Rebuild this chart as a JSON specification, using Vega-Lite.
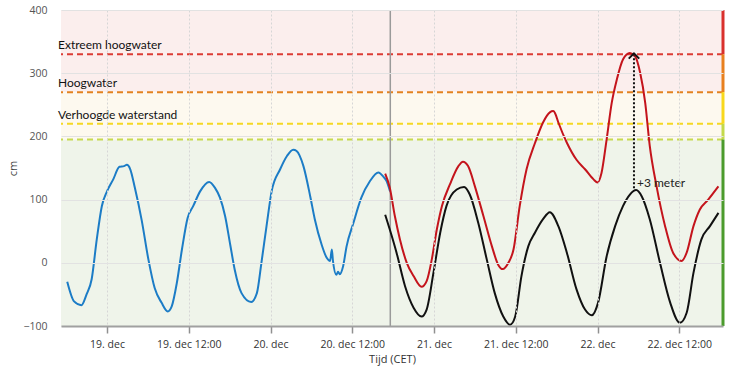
{
  "$schema": "https://vega.github.io/schema/vega-lite/v6.json",
  "width": 662,
  "height": 316,
  "autosize": {"type": "none"},
  "padding": {"left": 61, "top": 10, "right": 9, "bottom": 44},
  "background": "#ffffff",
  "config": {
    "view": {"stroke": null},
    "font": "Open Sans"
  },
  "resolve": {"scale": {"stroke": "independent", "color": "independent"}},
  "datasets": {
    "bands": [
      {"band": "hoog", "lo": 270, "hi": 400},
      {"band": "verhoogd", "lo": 195, "hi": 270},
      {"band": "normaal", "lo": -100, "hi": 195}
    ],
    "zones": [
      {"zone": "extreem", "lo": 330, "hi": 400},
      {"zone": "hoog", "lo": 270, "hi": 330},
      {"zone": "verhoogd", "lo": 220, "hi": 270},
      {"zone": "licht", "lo": 195, "hi": 220},
      {"zone": "normaal", "lo": -100, "hi": 195}
    ],
    "thresholds": [
      {"zone": "extreem", "level": 330, "label": "Extreem hoogwater"},
      {"zone": "hoog", "level": 270, "label": "Hoogwater"},
      {"zone": "verhoogd", "level": 220, "label": "Verhoogde waterstand"},
      {"zone": "licht", "level": 195, "label": ""}
    ],
    "now": [
      {"t": "2022-12-20T17:35:00Z"}
    ],
    "arrow": [
      {"t": "2022-12-22T05:21:00Z", "from": 118, "to": 328, "label": "+3 meter"}
    ],
    "series": [
      {"s": "gemeten", "t": "2022-12-18T18:10:00Z", "v": -30},
      {"s": "gemeten", "t": "2022-12-18T19:10:00Z", "v": -61},
      {"s": "gemeten", "t": "2022-12-18T20:15:00Z", "v": -67},
      {"s": "gemeten", "t": "2022-12-18T21:00:00Z", "v": -50},
      {"s": "gemeten", "t": "2022-12-18T21:45:00Z", "v": -26},
      {"s": "gemeten", "t": "2022-12-18T22:30:00Z", "v": 37},
      {"s": "gemeten", "t": "2022-12-18T23:15:00Z", "v": 90},
      {"s": "gemeten", "t": "2022-12-19T00:00:00Z", "v": 113},
      {"s": "gemeten", "t": "2022-12-19T00:55:00Z", "v": 132},
      {"s": "gemeten", "t": "2022-12-19T01:50:00Z", "v": 152},
      {"s": "gemeten", "t": "2022-12-19T02:30:00Z", "v": 153},
      {"s": "gemeten", "t": "2022-12-19T02:55:00Z", "v": 155},
      {"s": "gemeten", "t": "2022-12-19T03:25:00Z", "v": 148},
      {"s": "gemeten", "t": "2022-12-19T04:05:00Z", "v": 119},
      {"s": "gemeten", "t": "2022-12-19T05:05:00Z", "v": 68},
      {"s": "gemeten", "t": "2022-12-19T06:05:00Z", "v": 5},
      {"s": "gemeten", "t": "2022-12-19T07:00:00Z", "v": -40},
      {"s": "gemeten", "t": "2022-12-19T08:00:00Z", "v": -63},
      {"s": "gemeten", "t": "2022-12-19T08:55:00Z", "v": -77},
      {"s": "gemeten", "t": "2022-12-19T09:30:00Z", "v": -69},
      {"s": "gemeten", "t": "2022-12-19T10:15:00Z", "v": -32},
      {"s": "gemeten", "t": "2022-12-19T11:00:00Z", "v": 21},
      {"s": "gemeten", "t": "2022-12-19T11:50:00Z", "v": 71},
      {"s": "gemeten", "t": "2022-12-19T12:40:00Z", "v": 90},
      {"s": "gemeten", "t": "2022-12-19T13:40:00Z", "v": 113},
      {"s": "gemeten", "t": "2022-12-19T15:00:00Z", "v": 128},
      {"s": "gemeten", "t": "2022-12-19T15:50:00Z", "v": 119},
      {"s": "gemeten", "t": "2022-12-19T16:35:00Z", "v": 103},
      {"s": "gemeten", "t": "2022-12-19T17:20:00Z", "v": 74},
      {"s": "gemeten", "t": "2022-12-19T18:05:00Z", "v": 29},
      {"s": "gemeten", "t": "2022-12-19T18:45:00Z", "v": -11},
      {"s": "gemeten", "t": "2022-12-19T19:45:00Z", "v": -48},
      {"s": "gemeten", "t": "2022-12-19T21:10:00Z", "v": -62},
      {"s": "gemeten", "t": "2022-12-19T22:00:00Z", "v": -48},
      {"s": "gemeten", "t": "2022-12-19T22:40:00Z", "v": 0},
      {"s": "gemeten", "t": "2022-12-19T23:25:00Z", "v": 58},
      {"s": "gemeten", "t": "2022-12-20T00:10:00Z", "v": 113},
      {"s": "gemeten", "t": "2022-12-20T01:25:00Z", "v": 148},
      {"s": "gemeten", "t": "2022-12-20T02:25:00Z", "v": 169},
      {"s": "gemeten", "t": "2022-12-20T03:20:00Z", "v": 179},
      {"s": "gemeten", "t": "2022-12-20T03:50:00Z", "v": 177},
      {"s": "gemeten", "t": "2022-12-20T04:50:00Z", "v": 153},
      {"s": "gemeten", "t": "2022-12-20T05:50:00Z", "v": 105},
      {"s": "gemeten", "t": "2022-12-20T06:30:00Z", "v": 69},
      {"s": "gemeten", "t": "2022-12-20T07:30:00Z", "v": 29},
      {"s": "gemeten", "t": "2022-12-20T08:15:00Z", "v": 8},
      {"s": "gemeten", "t": "2022-12-20T08:45:00Z", "v": 3},
      {"s": "gemeten", "t": "2022-12-20T09:00:00Z", "v": 21},
      {"s": "gemeten", "t": "2022-12-20T09:10:00Z", "v": 3},
      {"s": "gemeten", "t": "2022-12-20T09:40:00Z", "v": -19},
      {"s": "gemeten", "t": "2022-12-20T09:55:00Z", "v": -14},
      {"s": "gemeten", "t": "2022-12-20T10:10:00Z", "v": -18},
      {"s": "gemeten", "t": "2022-12-20T10:40:00Z", "v": -5},
      {"s": "gemeten", "t": "2022-12-20T11:10:00Z", "v": 26},
      {"s": "gemeten", "t": "2022-12-20T12:10:00Z", "v": 63},
      {"s": "gemeten", "t": "2022-12-20T13:20:00Z", "v": 103},
      {"s": "gemeten", "t": "2022-12-20T14:35:00Z", "v": 129},
      {"s": "gemeten", "t": "2022-12-20T15:50:00Z", "v": 143},
      {"s": "gemeten", "t": "2022-12-20T16:35:00Z", "v": 136},
      {"s": "gemeten", "t": "2022-12-20T17:00:00Z", "v": 130},
      {"s": "gemeten", "t": "2022-12-20T17:33:00Z", "v": 113},

      {"s": "verwachting", "t": "2022-12-20T16:50:00Z", "v": 141},
      {"s": "verwachting", "t": "2022-12-20T17:30:00Z", "v": 119},
      {"s": "verwachting", "t": "2022-12-20T18:15:00Z", "v": 74},
      {"s": "verwachting", "t": "2022-12-20T19:00:00Z", "v": 37},
      {"s": "verwachting", "t": "2022-12-20T20:00:00Z", "v": 0},
      {"s": "verwachting", "t": "2022-12-20T21:00:00Z", "v": -21},
      {"s": "verwachting", "t": "2022-12-20T22:10:00Z", "v": -38},
      {"s": "verwachting", "t": "2022-12-20T22:55:00Z", "v": -29},
      {"s": "verwachting", "t": "2022-12-20T23:40:00Z", "v": 5},
      {"s": "verwachting", "t": "2022-12-21T00:25:00Z", "v": 53},
      {"s": "verwachting", "t": "2022-12-21T01:10:00Z", "v": 90},
      {"s": "verwachting", "t": "2022-12-21T02:20:00Z", "v": 124},
      {"s": "verwachting", "t": "2022-12-21T03:35:00Z", "v": 153},
      {"s": "verwachting", "t": "2022-12-21T04:15:00Z", "v": 160},
      {"s": "verwachting", "t": "2022-12-21T05:00:00Z", "v": 153},
      {"s": "verwachting", "t": "2022-12-21T06:00:00Z", "v": 121},
      {"s": "verwachting", "t": "2022-12-21T07:15:00Z", "v": 74},
      {"s": "verwachting", "t": "2022-12-21T08:30:00Z", "v": 26},
      {"s": "verwachting", "t": "2022-12-21T09:25:00Z", "v": -3},
      {"s": "verwachting", "t": "2022-12-21T10:05:00Z", "v": -10},
      {"s": "verwachting", "t": "2022-12-21T10:55:00Z", "v": 0},
      {"s": "verwachting", "t": "2022-12-21T11:40:00Z", "v": 21},
      {"s": "verwachting", "t": "2022-12-21T12:35:00Z", "v": 90},
      {"s": "verwachting", "t": "2022-12-21T13:35:00Z", "v": 148},
      {"s": "verwachting", "t": "2022-12-21T14:50:00Z", "v": 190},
      {"s": "verwachting", "t": "2022-12-21T16:00:00Z", "v": 222},
      {"s": "verwachting", "t": "2022-12-21T17:00:00Z", "v": 238},
      {"s": "verwachting", "t": "2022-12-21T17:30:00Z", "v": 240},
      {"s": "verwachting", "t": "2022-12-21T17:45:00Z", "v": 237},
      {"s": "verwachting", "t": "2022-12-21T18:15:00Z", "v": 222},
      {"s": "verwachting", "t": "2022-12-21T19:30:00Z", "v": 190},
      {"s": "verwachting", "t": "2022-12-21T20:55:00Z", "v": 163},
      {"s": "verwachting", "t": "2022-12-21T22:10:00Z", "v": 148},
      {"s": "verwachting", "t": "2022-12-21T23:25:00Z", "v": 132},
      {"s": "verwachting", "t": "2022-12-22T00:00:00Z", "v": 127},
      {"s": "verwachting", "t": "2022-12-22T00:35:00Z", "v": 142},
      {"s": "verwachting", "t": "2022-12-22T01:20:00Z", "v": 195},
      {"s": "verwachting", "t": "2022-12-22T02:05:00Z", "v": 253},
      {"s": "verwachting", "t": "2022-12-22T02:50:00Z", "v": 290},
      {"s": "verwachting", "t": "2022-12-22T03:45:00Z", "v": 322},
      {"s": "verwachting", "t": "2022-12-22T04:45:00Z", "v": 332},
      {"s": "verwachting", "t": "2022-12-22T05:30:00Z", "v": 327},
      {"s": "verwachting", "t": "2022-12-22T06:15:00Z", "v": 301},
      {"s": "verwachting", "t": "2022-12-22T07:00:00Z", "v": 253},
      {"s": "verwachting", "t": "2022-12-22T07:40:00Z", "v": 185},
      {"s": "verwachting", "t": "2022-12-22T08:40:00Z", "v": 121},
      {"s": "verwachting", "t": "2022-12-22T09:55:00Z", "v": 58},
      {"s": "verwachting", "t": "2022-12-22T11:05:00Z", "v": 16},
      {"s": "verwachting", "t": "2022-12-22T12:20:00Z", "v": 3},
      {"s": "verwachting", "t": "2022-12-22T13:05:00Z", "v": 16},
      {"s": "verwachting", "t": "2022-12-22T14:05:00Z", "v": 58},
      {"s": "verwachting", "t": "2022-12-22T15:00:00Z", "v": 84},
      {"s": "verwachting", "t": "2022-12-22T16:15:00Z", "v": 100},
      {"s": "verwachting", "t": "2022-12-22T17:45:00Z", "v": 121},

      {"s": "astronomisch", "t": "2022-12-20T16:50:00Z", "v": 76},
      {"s": "astronomisch", "t": "2022-12-20T17:30:00Z", "v": 53},
      {"s": "astronomisch", "t": "2022-12-20T18:30:00Z", "v": 16},
      {"s": "astronomisch", "t": "2022-12-20T19:45:00Z", "v": -37},
      {"s": "astronomisch", "t": "2022-12-20T21:00:00Z", "v": -71},
      {"s": "astronomisch", "t": "2022-12-20T22:10:00Z", "v": -85},
      {"s": "astronomisch", "t": "2022-12-20T22:55:00Z", "v": -74},
      {"s": "astronomisch", "t": "2022-12-20T23:55:00Z", "v": -16},
      {"s": "astronomisch", "t": "2022-12-21T00:55:00Z", "v": 48},
      {"s": "astronomisch", "t": "2022-12-21T01:50:00Z", "v": 90},
      {"s": "astronomisch", "t": "2022-12-21T03:20:00Z", "v": 116},
      {"s": "astronomisch", "t": "2022-12-21T04:25:00Z", "v": 120},
      {"s": "astronomisch", "t": "2022-12-21T05:15:00Z", "v": 108},
      {"s": "astronomisch", "t": "2022-12-21T06:30:00Z", "v": 63},
      {"s": "astronomisch", "t": "2022-12-21T07:45:00Z", "v": 5},
      {"s": "astronomisch", "t": "2022-12-21T08:55:00Z", "v": -48},
      {"s": "astronomisch", "t": "2022-12-21T10:10:00Z", "v": -85},
      {"s": "astronomisch", "t": "2022-12-21T11:10:00Z", "v": -98},
      {"s": "astronomisch", "t": "2022-12-21T11:55:00Z", "v": -85},
      {"s": "astronomisch", "t": "2022-12-21T12:50:00Z", "v": -21},
      {"s": "astronomisch", "t": "2022-12-21T13:50:00Z", "v": 26},
      {"s": "astronomisch", "t": "2022-12-21T14:50:00Z", "v": 48},
      {"s": "astronomisch", "t": "2022-12-21T16:00:00Z", "v": 69},
      {"s": "astronomisch", "t": "2022-12-21T17:00:00Z", "v": 80},
      {"s": "astronomisch", "t": "2022-12-21T18:15:00Z", "v": 58},
      {"s": "astronomisch", "t": "2022-12-21T19:30:00Z", "v": 16},
      {"s": "astronomisch", "t": "2022-12-21T20:55:00Z", "v": -42},
      {"s": "astronomisch", "t": "2022-12-21T22:10:00Z", "v": -74},
      {"s": "astronomisch", "t": "2022-12-21T23:10:00Z", "v": -83},
      {"s": "astronomisch", "t": "2022-12-22T00:05:00Z", "v": -63},
      {"s": "astronomisch", "t": "2022-12-22T01:20:00Z", "v": 10},
      {"s": "astronomisch", "t": "2022-12-22T02:35:00Z", "v": 58},
      {"s": "astronomisch", "t": "2022-12-22T03:45:00Z", "v": 90},
      {"s": "astronomisch", "t": "2022-12-22T04:45:00Z", "v": 108},
      {"s": "astronomisch", "t": "2022-12-22T05:40:00Z", "v": 115},
      {"s": "astronomisch", "t": "2022-12-22T06:30:00Z", "v": 105},
      {"s": "astronomisch", "t": "2022-12-22T07:40:00Z", "v": 69},
      {"s": "astronomisch", "t": "2022-12-22T09:10:00Z", "v": 0},
      {"s": "astronomisch", "t": "2022-12-22T10:40:00Z", "v": -63},
      {"s": "astronomisch", "t": "2022-12-22T12:05:00Z", "v": -95},
      {"s": "astronomisch", "t": "2022-12-22T13:05:00Z", "v": -79},
      {"s": "astronomisch", "t": "2022-12-22T14:05:00Z", "v": -16},
      {"s": "astronomisch", "t": "2022-12-22T15:15:00Z", "v": 37},
      {"s": "astronomisch", "t": "2022-12-22T16:30:00Z", "v": 58},
      {"s": "astronomisch", "t": "2022-12-22T17:45:00Z", "v": 79}
    ]
  },
  "encoding": {
    "x": {
      "type": "temporal",
      "scale": {
        "type": "utc",
        "domain": [
          {"year": 2022, "month": 12, "date": 18, "hours": 17, "minutes": 15, "utc": true},
          {"year": 2022, "month": 12, "date": 22, "hours": 18, "minutes": 25, "utc": true}
        ]
      },
      "axis": {
        "title": "Tijd (CET)",
        "titleFont": "Open Sans",
        "titleFontSize": 11,
        "titleFontWeight": "normal",
        "titleColor": "#333333",
        "titlePadding": 4,
        "values": [
          {"year": 2022, "month": 12, "date": 19, "hours": 0, "utc": true},
          {"year": 2022, "month": 12, "date": 19, "hours": 12, "utc": true},
          {"year": 2022, "month": 12, "date": 20, "hours": 0, "utc": true},
          {"year": 2022, "month": 12, "date": 20, "hours": 12, "utc": true},
          {"year": 2022, "month": 12, "date": 21, "hours": 0, "utc": true},
          {"year": 2022, "month": 12, "date": 21, "hours": 12, "utc": true},
          {"year": 2022, "month": 12, "date": 22, "hours": 0, "utc": true},
          {"year": 2022, "month": 12, "date": 22, "hours": 12, "utc": true}
        ],
        "labelExpr": "utcFormat(datum.value, '%H') == '00' ? utcFormat(datum.value, '%-d') + '. dec' : utcFormat(datum.value, '%-d') + '. dec ' + utcFormat(datum.value, '%H:%M')",
        "labelFont": "Open Sans",
        "labelFontSize": 10.5,
        "labelColor": "#333333",
        "labelPadding": 6,
        "domainColor": "#a0a0a0",
        "domainWidth": 2,
        "tickColor": "#909090",
        "tickSize": 7,
        "tickWidth": 1.5,
        "grid": true,
        "gridColor": "#d6d6d6",
        "gridDash": [2, 2],
        "gridWidth": 1,
        "zindex": 1
      }
    },
    "y": {
      "type": "quantitative",
      "scale": {"domain": [-100, 400], "nice": false, "zero": false},
      "axis": {
        "title": "cm",
        "titleFont": "Open Sans",
        "titleFontSize": 11,
        "titleFontWeight": "normal",
        "titleColor": "#444444",
        "titlePadding": 4,
        "values": [-100, 0, 100, 200, 300, 400],
        "labelFont": "Open Sans",
        "labelFontSize": 10.5,
        "labelColor": "#555555",
        "labelPadding": 14,
        "ticks": false,
        "domain": false,
        "grid": true,
        "gridColor": "#e2e2e2",
        "gridWidth": 1,
        "zindex": 1
      }
    }
  },
  "layer": [
    {
      "data": {"name": "bands"},
      "mark": {"type": "rect"},
      "encoding": {
        "x": null,
        "y": {"field": "lo", "type": "quantitative"},
        "y2": {"field": "hi"},
        "color": {
          "field": "band",
          "type": "nominal",
          "scale": {"domain": ["hoog", "verhoogd", "normaal"], "range": ["#fbeeed", "#fdf9ef", "#eff4ea"]},
          "legend": null
        }
      }
    },
    {
      "data": {"name": "thresholds"},
      "mark": {"type": "rule", "strokeDash": [6, 4], "strokeWidth": 2},
      "encoding": {
        "x": null,
        "y": {"field": "level", "type": "quantitative"},
        "stroke": {
          "field": "zone",
          "type": "nominal",
          "scale": {"domain": ["extreem", "hoog", "verhoogd", "licht"], "range": ["#dc3c34", "#e3821f", "#f5d823", "#c8da50"]},
          "legend": null
        }
      }
    },
    {
      "data": {"name": "thresholds"},
      "mark": {"type": "text", "align": "left", "baseline": "middle", "dx": -3, "dy": -9, "font": "Lato", "fontSize": 12, "color": "#111111"},
      "encoding": {
        "x": {"datum": {"year": 2022, "month": 12, "date": 18, "hours": 17, "minutes": 15, "utc": true}, "type": "temporal"},
        "y": {"field": "level", "type": "quantitative"},
        "text": {"field": "label"}
      }
    },
    {
      "data": {"name": "now"},
      "mark": {"type": "rule", "color": "#9a9a9a", "strokeWidth": 1.5},
      "encoding": {
        "x": {"field": "t", "type": "temporal"},
        "y": null
      }
    },
    {
      "data": {"name": "series"},
      "mark": {"type": "line", "strokeWidth": 2, "interpolate": "monotone"},
      "encoding": {
        "x": {"field": "t", "type": "temporal"},
        "y": {"field": "v", "type": "quantitative"},
        "detail": {"field": "s"},
        "stroke": {
          "field": "s",
          "type": "nominal",
          "scale": {"domain": ["gemeten", "verwachting", "astronomisch"], "range": ["#1c7cc6", "#c4141c", "#111111"]},
          "legend": null
        }
      }
    },
    {
      "data": {"name": "arrow"},
      "mark": {"type": "rule", "strokeDash": [2, 2], "strokeWidth": 2, "color": "#111111"},
      "encoding": {
        "x": {"field": "t", "type": "temporal"},
        "y": {"field": "from", "type": "quantitative"},
        "y2": {"field": "to"}
      }
    },
    {
      "data": {"name": "arrow"},
      "mark": {"type": "point", "shape": "M-1,0.6L0,-0.4L1,0.6", "filled": false, "size": 110, "strokeWidth": 2, "color": "#111111", "opacity": 1},
      "encoding": {
        "x": {"field": "t", "type": "temporal"},
        "y": {"field": "to", "type": "quantitative"}
      }
    },
    {
      "data": {"name": "arrow"},
      "mark": {"type": "text", "align": "left", "baseline": "middle", "dx": 3, "dy": -5, "font": "Lato", "fontSize": 12, "color": "#222222"},
      "encoding": {
        "x": {"field": "t", "type": "temporal"},
        "y": {"field": "from", "type": "quantitative"},
        "text": {"field": "label"}
      }
    },
    {
      "data": {"name": "zones"},
      "mark": {"type": "rule", "strokeWidth": 3},
      "encoding": {
        "x": {"datum": {"year": 2022, "month": 12, "date": 22, "hours": 18, "minutes": 25, "utc": true}, "type": "temporal"},
        "y": {"field": "lo", "type": "quantitative"},
        "y2": {"field": "hi"},
        "stroke": {
          "field": "zone",
          "type": "nominal",
          "scale": {"domain": ["extreem", "hoog", "verhoogd", "licht", "normaal"], "range": ["#d9302c", "#e8801e", "#f8d81c", "#c3d94a", "#4b9b2c"]},
          "legend": null
        }
      }
    }
  ]
}
